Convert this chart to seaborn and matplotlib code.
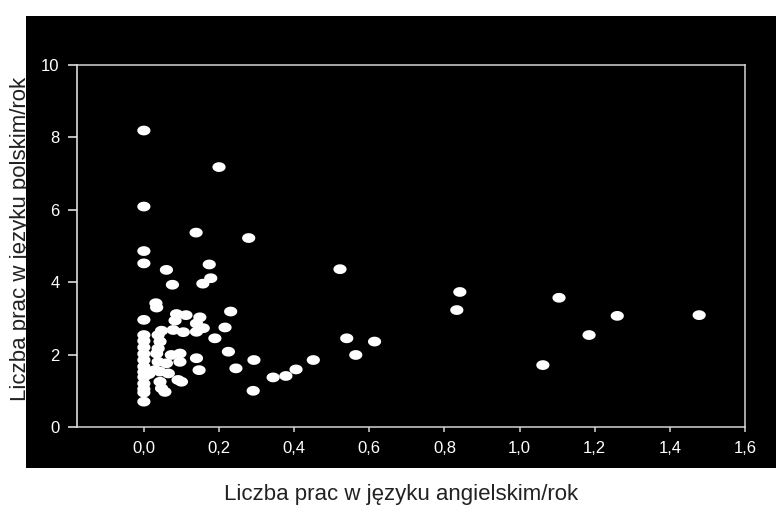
import numpy as np
import pandas as pd
import matplotlib
matplotlib.use('Agg')
import matplotlib.pyplot as plt
from matplotlib.patches import Rectangle
from matplotlib.path import Path
import seaborn as sns

# dane (prace/rok)
prace_ang = [0.0, 0.0, 0.0, 0.0, 0.0, 0.0, 0.0, 0.0, 0.0, 0.0, 0.0, 0.0,
             0.0, 0.0, 0.0, 0.0, 0.0,
             0.013, 0.032, 0.034, 0.038, 0.043, 0.038, 0.034, 0.038, 0.029,
             0.043, 0.043, 0.047, 0.056, 0.047, 0.060, 0.060, 0.065, 0.073,
             0.076, 0.078, 0.083, 0.087, 0.091, 0.100, 0.096, 0.096, 0.105,
             0.112, 0.139, 0.140, 0.140, 0.149, 0.158, 0.140, 0.147, 0.157,
             0.174, 0.178, 0.189, 0.200, 0.216, 0.225, 0.231, 0.245, 0.279,
             0.293, 0.291, 0.344, 0.378, 0.405, 0.451, 0.522, 0.540, 0.564,
             0.614, 0.833, 0.841, 1.062, 1.105, 1.185, 1.260, 1.478]
prace_pol = [8.19, 6.09, 4.86, 4.52, 2.96, 2.54, 2.38, 2.20, 2.02, 1.85,
             1.67, 1.52, 1.38, 1.20, 1.05, 0.95, 0.70,
             1.46, 3.42, 3.30, 2.54, 2.36, 2.17, 2.03, 1.80, 1.57,
             1.53, 1.25, 1.07, 0.97, 2.66, 4.34, 1.76, 1.48, 1.99,
             3.93, 2.68, 2.94, 3.12, 1.30, 1.25, 2.03, 1.80, 2.62,
             3.09, 5.37, 2.86, 2.63, 3.03, 2.73, 1.90, 1.57, 3.96,
             4.49, 4.11, 2.45, 7.18, 2.75, 2.08, 3.19, 1.62, 5.22,
             1.85, 1.00, 1.37, 1.41, 1.59, 1.85, 4.36, 2.45, 1.99,
             2.36, 3.23, 3.73, 1.71, 3.57, 2.54, 3.07, 3.09]

x_ticks = [0.0, 0.2, 0.4, 0.6, 0.8, 1.0, 1.2, 1.4, 1.6]
x_tick_labels = ['0,0', '0,2', '0,4', '0,6', '0,8', '1,0', '1,2', '1,4', '1,6']
y_ticks = [0, 2, 4, 6, 8, 10]

df = pd.DataFrame({'ang': prace_ang, 'pol': prace_pol})

plt.rcParams['font.family'] = ['Liberation Sans', 'DejaVu Sans']

fig = plt.figure(figsize=(7.76, 5.17), dpi=100, facecolor='white')

# czarne tło pod wykresem (zakrywa dolną część opisu osi Y)
fig.patches.append(Rectangle((26/776, 1 - 468/517), 750/776, 452/517,
                             transform=fig.transFigure, facecolor='black',
                             edgecolor='none', zorder=-1))

fig.text(0.0262, 0.537, 'Liczba prac w języku polskim/rok', rotation=90,
         ha='center', va='center', fontsize=16, color='#222222', zorder=-2)
fig.text(0.5168, 0.033, 'Liczba prac w języku angielskim/rok',
         ha='center', va='baseline', fontsize=16, color='#222222')

ax = fig.add_axes([77/776, 1 - 427/517, 668/776, 362/517])
ax.set_facecolor('black')

# marker eliptyczny (oryginał rozciągnięty w poziomie)
t = np.linspace(0, 2*np.pi, 60)
elipsa = Path(np.column_stack([np.cos(t), 0.74*np.sin(t)]), closed=True)

sns.scatterplot(data=df, x='ang', y='pol', ax=ax, color='white',
                marker=elipsa, s=90, linewidth=0, edgecolor='none')

ax.set_xlim(-0.178, 1.6)
ax.set_ylim(0, 10)
ax.set_xticks(x_ticks)
ax.set_xticklabels(x_tick_labels)
ax.set_yticks(y_ticks)
ax.set_xlabel('')
ax.set_ylabel('')

for s in ax.spines.values():
    s.set_color('#d4d4d4')
    s.set_linewidth(1.1)
ax.spines['left'].set_color('#f0f0f0')

ax.tick_params(axis='x', colors='#d4d4d4', labelcolor='white', length=3.8,
               width=1.1, pad=6.5, labelsize=12)
ax.tick_params(axis='y', colors='#f0f0f0', labelcolor='white', length=6.5,
               width=1.1, pad=6, labelsize=12)

plt.savefig('out.png', dpi=100, facecolor='white')
